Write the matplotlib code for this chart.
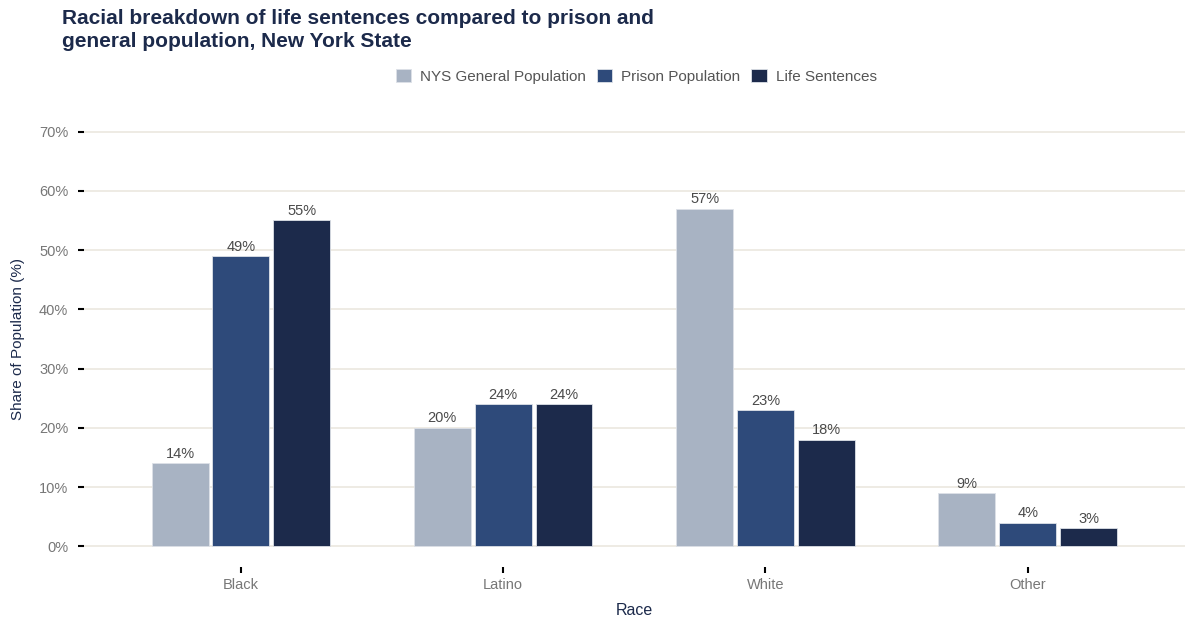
import numpy as np
import matplotlib
matplotlib.use("Agg")
from matplotlib import pyplot as plt

plt.rcParams["font.family"] = ["Liberation Sans", "DejaVu Sans"]

races = ["Black", "Latino", "White", "Other"]
general_pop = [14, 20, 57, 9]
prison_pop = [49, 24, 23, 4]
life_sent = [55, 24, 18, 3]
series_names = ["NYS General Population", "Prison Population", "Life Sentences"]
colors = ["#a8b3c3", "#2e4a7a", "#1c2a4b"]
yticks = [0, 10, 20, 30, 40, 50, 60, 70]

navy = "#1c2a4b"

fig = plt.figure(figsize=(11.85, 6.19), dpi=100)
ax = fig.add_axes([0.0705, 0.084, 0.9295, 0.737])

x = np.arange(len(races))
step = 0.232
width = 0.217
for i, (vals, name, c) in enumerate(zip([general_pop, prison_pop, life_sent], series_names, colors)):
    pos = x + (i - 1) * step
    ax.bar(pos, vals, width=width, color=c, edgecolor="#dde1e8", linewidth=0.6, label=name, zorder=3)
    for px, v in zip(pos, vals):
        ax.text(px, v + 0.4, f"{v}%", ha="center", va="bottom", fontsize=10.5, color="#4a4a4a", zorder=4)

ax.set_xlim(-0.6, 3.6)
ax.set_ylim(-3.5, 73.5)
ax.set_yticks(yticks)
ax.set_yticklabels([f"{t}%" for t in yticks])
ax.set_xticks(x)
ax.set_xticklabels(races)
ax.grid(axis="y", color="#ebe7df", linewidth=1.2, zorder=0)
for s in ax.spines.values():
    s.set_visible(False)
ax.tick_params(axis="both", colors="black", length=4, width=1.5, labelsize=10.5, labelcolor="#777777")
ax.tick_params(axis="y", pad=7)
ax.tick_params(axis="x", pad=4)

ax.set_ylabel("Share of Population (%)", fontsize=11, color=navy, labelpad=10)
ax.set_xlabel("Race", fontsize=11.5, color=navy, labelpad=8)

fig.text(0.052, 0.985, "Racial breakdown of life sentences compared to prison and\ngeneral population, New York State",
         fontsize=15, fontweight="bold", color=navy, ha="left", va="top", linespacing=1.22)

fig.legend(loc="center", bbox_to_anchor=(0.537, 0.877), ncol=3, frameon=False, fontsize=11,
           labelcolor="#555555", handlelength=1.0, handleheight=1.0, handletextpad=0.6, columnspacing=0.7)

fig.savefig("out.png", dpi=100)
